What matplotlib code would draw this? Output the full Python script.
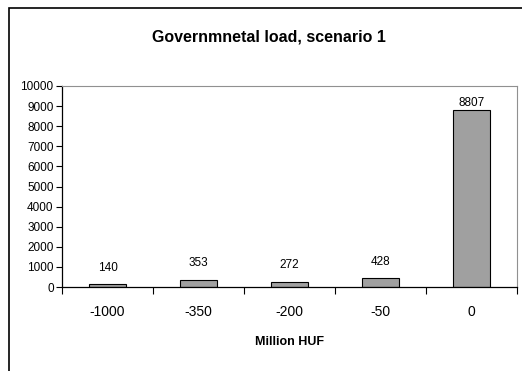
import matplotlib
matplotlib.use("Agg")
import matplotlib.pyplot as plt
from matplotlib.patches import Rectangle

plt.rcParams['font.family'] = ['Liberation Sans', 'DejaVu Sans']

categories = ["-1000", "-350", "-200", "-50", "0"]
values = [140, 353, 272, 428, 8807]
title = "Governmnetal load, scenario 1"
xlabel = "Million HUF"

W, H = 522, 371
fig = plt.figure(figsize=(W/100, H/100), dpi=100)
fig.patch.set_facecolor("white")

# outer chart border (extends past right/bottom edges)
fig.add_artist(Rectangle((9/W, -0.05), 1.2, (H-8)/H + 0.05, transform=fig.transFigure,
                         fill=False, edgecolor="black", linewidth=1.2))

left, right, top, bottom = 62, 517, 86, 287
ax = fig.add_axes([left/W, 1 - bottom/H, (right-left)/W, (bottom-top)/H])

x = range(len(categories))
ax.bar(x, values, width=0.41, color="#a0a0a0", edgecolor="black", linewidth=0.8)
ax.set_xlim(-0.5, len(categories) - 0.5)
ax.set_ylim(0, 10000)
ax.set_yticks(range(0, 10001, 1000))
ax.tick_params(axis='y', labelsize=8.5, length=4, width=0.8, pad=2, direction='out')

ax.set_xticks(list(x))
ax.set_xticklabels(categories, fontsize=10)
ax.tick_params(axis='x', length=0, pad=13)
ax.set_xticks([i + 0.5 for i in range(-1, len(categories))], minor=True)
ax.tick_params(axis='x', which='minor', length=5, width=0.8, direction='out')

for sp in ("left", "bottom"):
    ax.spines[sp].set_color("black")
    ax.spines[sp].set_linewidth(0.9)
for sp in ("top", "right"):
    ax.spines[sp].set_color("#909090")
    ax.spines[sp].set_linewidth(0.8)

for i, v in enumerate(values):
    if v > 1000:
        ax.annotate(str(v), (i, v), xytext=(0, 0.5), textcoords="offset points",
                    ha="center", va="bottom", fontsize=8.5)
    else:
        ax.annotate(str(v), (i, v), xytext=(0, 12), textcoords="offset points",
                    ha="center", va="center", fontsize=8.5)

fig.text((left + right) / 2 / W - 0.04, 1 - 37/H, title, ha="center", va="center",
         fontsize=11.5, fontweight="bold")
ax.set_xlabel(xlabel, fontsize=9, fontweight="bold", labelpad=12)

fig.savefig("out.png", dpi=100)
